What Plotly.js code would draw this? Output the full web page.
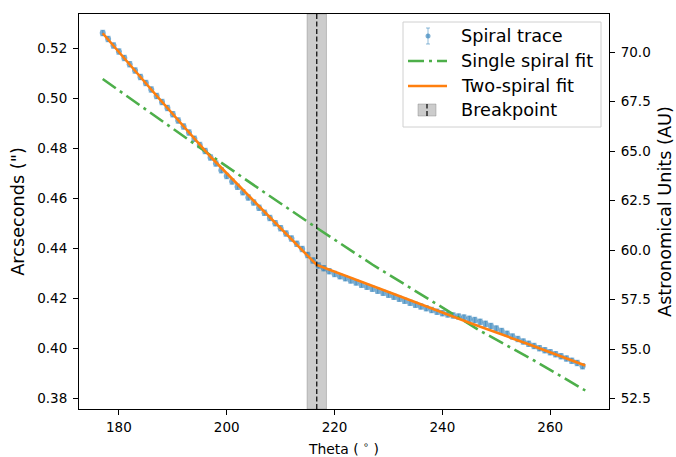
<!DOCTYPE html>
<html><head><meta charset="utf-8">
<script src="https://cdn.plot.ly/plotly-3.0.1.min.js"></script>
<style>html,body{margin:0;padding:0;background:#fff}#chart{width:676px;height:457px}</style>
</head><body><div id="chart"></div>
<script>
// ---- data ----
const theta = [177,178,179,180,181,182,183,184,185,186,187,188,189,190,191,192,193,194,195,196,
  197,198,199,200,201,202,203,204,205,206,207,208,209,210,211,212,213,214,215,216,
  217,218,219,220,221,222,223,224,225,226,227,228,229,230,231,232,233,234,235,236,
  237,238,239,240,241,242,243,244,245,246,247,248,249,250,251,252,253,254,255,256,
  257,258,259,260,261,262,263,264,265,266];
const spiralArcsec = [0.5260,0.5236,0.5210,0.5186,0.5160,0.5135,0.5110,0.5084,0.5060,0.5034,
  0.5008,0.4984,0.4960,0.4935,0.4910,0.4886,0.4862,0.4837,0.4812,0.4788,
  0.4762,0.4738,0.4711,0.4688,0.4666,0.4645,0.4623,0.4602,0.4582,0.4561,
  0.4541,0.4520,0.4499,0.4479,0.4458,0.4438,0.4417,0.4396,0.4372,0.4350,
  0.4330,0.4319,0.4307,0.4296,0.4287,0.4279,0.4270,0.4262,0.4253,0.4245,
  0.4237,0.4229,0.4221,0.4213,0.4205,0.4197,0.4189,0.4181,0.4173,0.4166,
  0.4159,0.4152,0.4145,0.4139,0.4134,0.4130,0.4126,0.4122,0.4117,0.4112,
  0.4105,0.4097,0.4088,0.4078,0.4068,0.4057,0.4046,0.4036,0.4026,0.4017,
  0.4008,0.3999,0.3991,0.3983,0.3975,0.3967,0.3958,0.3949,0.3940,0.3927];
const spiralErr = 0.0011;
const singleTheta = [177,187,197,207,217,227,237,247,257,266.5];
const singleArcsec = [0.5076,0.4922,0.4771,0.4622,0.4476,0.4334,0.4202,0.4069,0.3950,0.3830];
const twoTheta = [177,187,197,207,216.7,231,245,256,266.5];
const twoArcsec = [0.5259,0.5009,0.4765,0.4547,0.4332,0.4216,0.4101,0.4015,0.3930];
const breakpointTheta = 216.7;
const breakpointErr = 1.8;
const xTicks = [180,200,220,240,260];
const yTicks = [0.38,0.40,0.42,0.44,0.46,0.48,0.50,0.52];
const auTicks = [52.5,55.0,57.5,60.0,62.5,65.0,67.5,70.0];
const legendLabels = ['Spiral trace','Single spiral fit','Two-spiral fit','Breakpoint'];

// ---- styling ----
const W = 676, H = 457;
const M = {l:79, r:67, t:14, b:48};
const PW = W - M.l - M.r, PH = H - M.t - M.b;
const px = x => (x - M.l) / PW;          // pixel -> paper x
const py = y => (H - M.b - y) / PH;      // pixel -> paper y
const FONT = 'DejaVu Sans, sans-serif';
const GREEN = '#4daf4a', ORANGE = '#ff7f0e';

const traces = [
  {x: theta, y: spiralArcsec, type:'scatter', mode:'markers', name: legendLabels[0],
   marker:{color:'rgba(31,119,180,0.6)', size:6},
   error_y:{type:'constant', value: spiralErr, color:'rgba(31,119,180,0.45)', thickness:1.2, width:2.5},
   hoverinfo:'skip'},
  {x: singleTheta, y: singleArcsec, type:'scatter', mode:'lines', name: legendLabels[1],
   line:{color: GREEN, width:2.6, dash:'16px,5px,3px,5px'}},
  {x: twoTheta, y: twoArcsec, type:'scatter', mode:'lines', name: legendLabels[2],
   line:{color: ORANGE, width:2.6}},
  {x: [], y: [], yaxis:'y2', type:'scatter', mode:'lines', showlegend:false}
];

const shapes = [
  {type:'rect', xref:'x', yref:'paper', x0: breakpointTheta - breakpointErr, x1: breakpointTheta + breakpointErr,
   y0:0, y1:1, fillcolor:'rgba(128,128,128,0.4)', line:{color:'rgba(128,128,128,0.4)', width:1}, layer:'below'},
  {type:'line', xref:'x', yref:'paper', x0: breakpointTheta, x1: breakpointTheta, y0:0, y1:1,
   line:{color:'#000', width:1.2, dash:'5px,2.5px'}, layer:'above'}
];

// custom legend (matplotlib style)
const LB = {x0:403, x1:601, y0:22, y1:127};
shapes.push({type:'rect', xref:'paper', yref:'paper', x0:px(LB.x0), x1:px(LB.x1), y0:py(LB.y1), y1:py(LB.y0),
  fillcolor:'rgba(255,255,255,0.8)', line:{color:'#d0d0d0', width:1}, layer:'above'});
const rows = [36, 61, 86, 110];
shapes.push({type:'line', xref:'paper', yref:'paper', x0:px(428), x1:px(428), y0:py(44), y1:py(28),
  line:{color:'rgba(31,119,180,0.5)', width:1}});
shapes.push({type:'line', xref:'paper', yref:'paper', x0:px(426), x1:px(430), y0:py(28), y1:py(28),
  line:{color:'rgba(31,119,180,0.5)', width:1}});
shapes.push({type:'line', xref:'paper', yref:'paper', x0:px(426), x1:px(430), y0:py(44), y1:py(44),
  line:{color:'rgba(31,119,180,0.5)', width:1}});
shapes.push({type:'circle', xref:'paper', yref:'paper', x0:px(425.5), x1:px(430.5), y0:py(38.5), y1:py(33.5),
  fillcolor:'rgba(31,119,180,0.6)', line:{width:0}});
shapes.push({type:'line', xref:'paper', yref:'paper', x0:px(408), x1:px(447), y0:py(rows[1]), y1:py(rows[1]),
  line:{color:GREEN, width:2.6, dash:'16px,5px,3px,5px'}});
shapes.push({type:'line', xref:'paper', yref:'paper', x0:px(408), x1:px(447), y0:py(rows[2]), y1:py(rows[2]),
  line:{color:ORANGE, width:2.6}});
shapes.push({type:'rect', xref:'paper', yref:'paper', x0:px(418), x1:px(436), y0:py(116), y1:py(104),
  fillcolor:'rgba(128,128,128,0.4)', line:{color:'rgba(128,128,128,0.4)', width:1}});
shapes.push({type:'line', xref:'paper', yref:'paper', x0:px(427), x1:px(427), y0:py(116), y1:py(104),
  line:{color:'#000', width:1.2, dash:'5px,2.5px'}});

const annotations = legendLabels.map((t,i) => ({
  text: t, xref:'paper', yref:'paper', x: px(459), y: py(rows[i]), xanchor:'left', yanchor:'middle',
  showarrow:false, font:{family:FONT, size:17.7, color:'#000'}
}));

const axisBase = {
  ticks:'outside', ticklen:5, tickwidth:1, tickcolor:'#000', showline:true, linecolor:'#000', linewidth:1,
  showgrid:false, zeroline:false, tickfont:{family:FONT, size:13.5, color:'#000'}
};

const layout = {
  width: W, height: H, margin:{l:M.l, r:M.r, t:M.t, b:M.b, pad:0},
  paper_bgcolor:'#fff', plot_bgcolor:'#fff', showlegend:false, font:{family:FONT, color:'#000'},
  xaxis: Object.assign({}, axisBase, {range:[172.6, 270.9], tickvals:xTicks, mirror:true, ticklabelstandoff:1,
    title:{text:'Theta ( <sup>∘</sup> )', font:{family:FONT, size:13.9, color:'#000'}, standoff:11}}),
  yaxis: Object.assign({}, axisBase, {range:[0.3756, 0.5336], tickvals:yTicks, tickformat:'.2f', ticklabelstandoff:3,
    title:{text:'Arcseconds (")', font:{family:FONT, size:17.7, color:'#000'}, standoff:8}}),
  yaxis2: Object.assign({}, axisBase, {range:[51.97, 71.92], tickvals:auTicks, tickformat:'.1f', overlaying:'y', side:'right', ticklabelstandoff:3,
    title:{text:'Astronomical Units (AU)', font:{family:FONT, size:17.7, color:'#000'}, standoff:8}}),
  shapes: shapes, annotations: annotations
};

Plotly.newPlot('chart', traces, layout, {displayModeBar:false, staticPlot:true});
</script></body></html>
